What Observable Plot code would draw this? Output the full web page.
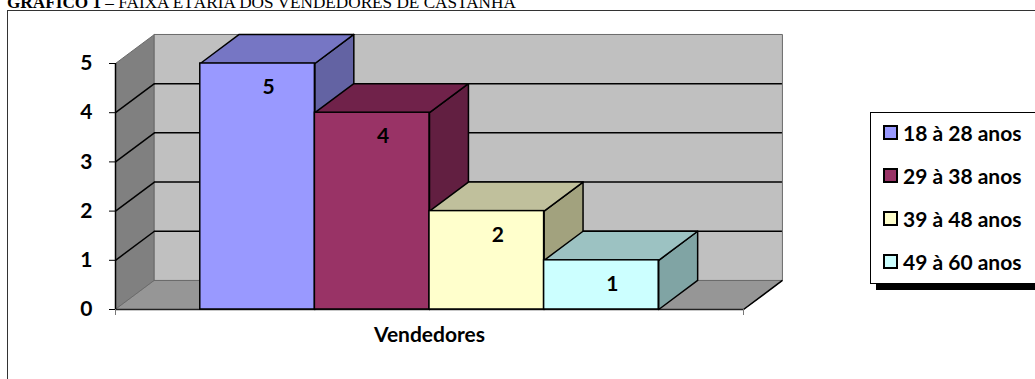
<!DOCTYPE html>
<html>
<head>
<meta charset="utf-8">
<script src="https://cdn.jsdelivr.net/npm/d3@7"></script>
<script src="https://cdn.jsdelivr.net/npm/@observablehq/plot@0.6"></script>
<style>
  html, body { margin: 0; padding: 0; background: #fff; }
  #page { position: relative; width: 1035px; height: 379px; overflow: hidden; background: #fff; }
  #title { position: absolute; left: 7px; top: -6px; font-family: "Liberation Serif", "Times New Roman", serif; font-size: 17.2px; line-height: 17px; white-space: nowrap; color: #000; }
  #title b { font-weight: bold; }
  #frame { position: absolute; left: 7px; top: 10px; width: 1100px; height: 400px; border-left: 1.5px solid #333; border-top: 1.5px solid #333; }
  #chart { position: absolute; left: 0; top: 0; }
  #legend { position: absolute; left: 870px; top: 112px; width: 200px; height: 170px; border: 1px solid #000; background: #fff; box-shadow: 6px 6px 0 #000; font-family: Lato, "Open Sans", sans-serif; font-weight: bold; font-size: 21px; }
  .item { position: absolute; left: 12px; display: flex; align-items: center; white-space: nowrap; }
  .sw { width: 11px; height: 11px; border: 2px solid #000; margin-right: 5px; }
</style>
</head>
<body>
<div id="page">
  <div id="title"></div>
  <div id="frame"></div>
  <div id="chart"></div>
  <div id="legend"></div>
</div>
<script>
// Age groups of the sellers and how many sellers fall in each
const titleBold = "GRÁFICO 1";
const titleRest = " – FAIXA ETÁRIA DOS VENDEDORES DE CASTANHA";
const categories = ["18 à 28 anos", "29 à 38 anos", "39 à 48 anos", "49 à 60 anos"];
const values = [5, 4, 2, 1];
const yTicks = [0, 1, 2, 3, 4, 5];
const xLabel = "Vendedores";

// Face colours of each 3-D column: front, top, side
const frontColors = ["#9999ff", "#993366", "#ffffcc", "#ccffff"];
const topColors = ["#7676c4", "#70224a", "#c0c09c", "#9cc2c2"];
const sideColors = ["#6363a3", "#621f41", "#a2a27e", "#80a4a4"];

// Depth of the 3-D box, in scale units (x: fraction of the category span, y: value units)
const DX = 0.062;
const DY = 0.59;
const PAD = 0.135;                            // empty space each side of the column group
const BW = (1 - 2 * PAD) / categories.length; // width of one column
const YMAX = 5;
const FONT = 21;

document.getElementById("title").innerHTML = `<b>${titleBold}</b>${titleRest}`;

const bars = categories.map((c, i) => ({
  c, v: values[i], i,
  x1: PAD + i * BW, x2: PAD + (i + 1) * BW
}));

// polygon helper: each face is a closed line with its own z
const poly = (id, fill, pts) => pts.map(([x, y]) => ({id, fill, x, y}));

const walls = [
  ...poly("left", "#808080", [[0, 0], [0, YMAX], [DX, YMAX + DY], [DX, DY]]),
  ...poly("back", "#c0c0c0", [[DX, DY], [1 + DX, DY], [1 + DX, YMAX + DY], [DX, YMAX + DY]]),
  ...poly("floor", "#969696", [[0, 0], [1, 0], [1 + DX, DY], [DX, DY]])
];

const sides = bars.flatMap(b => poly("s" + b.i, sideColors[b.i],
  [[b.x2, 0], [b.x2, b.v], [b.x2 + DX, b.v + DY], [b.x2 + DX, DY]]));
const tops = bars.flatMap(b => poly("t" + b.i, topColors[b.i],
  [[b.x1, b.v], [b.x2, b.v], [b.x2 + DX, b.v + DY], [b.x1 + DX, b.v + DY]]));

const gridVals = yTicks.filter(v => v > 0 && v < YMAX);

const chart = Plot.plot({
  width: 860,
  height: 379,
  marginLeft: 115,
  marginRight: 117,
  marginTop: 63,
  marginBottom: 70,
  x: {domain: [0, 1]},
  y: {domain: [0, YMAX]},
  color: {type: "identity"},
  style: {background: "transparent", fontFamily: "Lato, 'Open Sans', sans-serif", overflow: "visible"},
  marks: [
    // walls and floor
    Plot.line(walls, {x: "x", y: "y", z: "id", fill: "fill", stroke: "#6a6a6a", strokeWidth: 1, curve: "linear-closed"}),
    // gridlines on the back wall and the left wall
    Plot.ruleY(gridVals, {y: v => v + DY, x1: DX, x2: 1 + DX, stroke: "#000", strokeWidth: 1.5, strokeOpacity: 1}),
    Plot.link(gridVals, {x1: 0, y1: v => v, x2: DX, y2: v => v + DY, stroke: "#000", strokeWidth: 1.5, strokeOpacity: 1}),
    // floor edges
    Plot.link([0], {x1: 1, y1: 0, x2: 1 + DX, y2: DY, stroke: "#000", strokeWidth: 1.5}),
    Plot.ruleY([0], {x1: 0, x2: 1, stroke: "#222", strokeWidth: 1.5, strokeOpacity: 1}),
    Plot.ruleX([0], {y1: 0, y2: YMAX, stroke: "#000", strokeWidth: 1.5, strokeOpacity: 1}),
    // 3-D columns: sides, tops, then fronts
    Plot.line(sides, {x: "x", y: "y", z: "id", fill: "fill", stroke: "#000", strokeWidth: 1.5, curve: "linear-closed"}),
    Plot.line(tops, {x: "x", y: "y", z: "id", fill: "fill", stroke: "#000", strokeWidth: 1.5, curve: "linear-closed"}),
    Plot.rect(bars, {x1: "x1", x2: "x2", y1: 0, y2: "v", fill: (d) => frontColors[d.i], stroke: "#000", strokeWidth: 1.5}),
    // value labels
    Plot.text(bars, {x: d => (d.x1 + d.x2) / 2, y: "v", text: d => String(d.v), dx: 11, dy: 24, fontSize: FONT, fontWeight: "bold", fill: "#000"}),
    // axes
    Plot.axisY({ticks: yTicks, tickFormat: d3.format("d"), tickSize: 6, tickPadding: 17, fontSize: FONT, fontWeight: "bold", label: null, stroke: "#000"}),
    Plot.axisX({ticks: [0, 1], tickSize: 6, tickFormat: () => "", label: null, stroke: "#777"}),
    Plot.text([xLabel], {x: 0.5, frameAnchor: "bottom", dy: 32, fontSize: FONT, fontWeight: "bold", fill: "#000"})
  ]
});
document.getElementById("chart").appendChild(chart);

// legend
const legend = document.getElementById("legend");
const legendTop = [21, 64, 107, 150];
categories.forEach((c, i) => {
  const item = document.createElement("div");
  item.className = "item";
  item.style.top = (legendTop[i] - 14) + "px";
  item.innerHTML = `<span class="sw" style="background:${frontColors[i]}"></span><span>${c}</span>`;
  legend.appendChild(item);
});
</script>
</body>
</html>
